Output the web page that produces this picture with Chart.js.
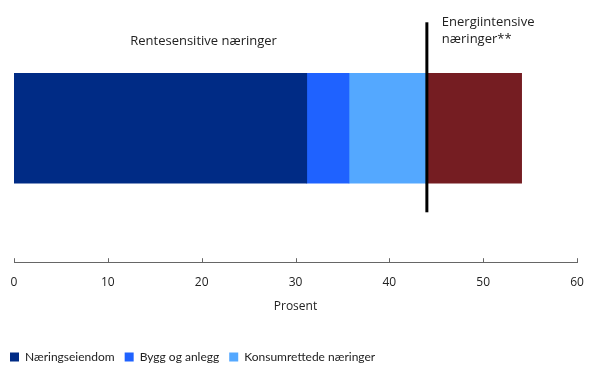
<!DOCTYPE html>
<html>
<head>
<meta charset="utf-8">
<script src="https://cdn.jsdelivr.net/npm/chart.js@4"></script>
<style>
  html, body { margin: 0; padding: 0; background: #fff; }
  #wrap { width: 589px; height: 365px; }
</style>
</head>
<body>
<div id="wrap"><canvas id="c" width="589" height="365"></canvas></div>
<script>
// Shares of lending by industry group, in percent
const seriesNames = ['Næringseiendom', 'Bygg og anlegg', 'Konsumrettede næringer', 'Energiintensive næringer'];
const seriesValues = [31.2, 4.5, 8.2, 10.2];
const seriesColors = ['#002B85', '#1F62FF', '#54A8FF', '#751D22'];
const xTicks = [0, 10, 20, 30, 40, 50, 60];
const groupLabel = 'Rentesensitive næringer';
const energyLabel = ['Energiintensive', 'næringer**'];
const dividerValue = 44;

const FONT = '"Open Sans", "Noto Sans", sans-serif';

const datasets = seriesNames.map((name, i) => ({
  label: name,
  data: [{ x: seriesValues[i], y: 0 }],
  backgroundColor: seriesColors[i],
  borderWidth: 0,
  barThickness: 110
}));

// Divider line, group captions and inward tick marks
const overlay = {
  id: 'overlay',
  afterDraw(chart) {
    const ctx = chart.ctx;
    const xs = chart.scales.x, ys = chart.scales.y;
    const yMid = ys.getPixelForValue(0);
    ctx.save();
    // tick marks above the axis line
    ctx.strokeStyle = '#666';
    ctx.lineWidth = 1;
    const axisY = chart.chartArea.bottom;
    xTicks.forEach(v => {
      const px = Math.round(xs.getPixelForValue(v)) + 0.5;
      ctx.beginPath();
      ctx.moveTo(px, axisY - 4);
      ctx.lineTo(px, axisY);
      ctx.stroke();
    });
    // vertical divider
    const dx = xs.getPixelForValue(dividerValue);
    ctx.strokeStyle = '#000';
    ctx.lineWidth = 3;
    ctx.beginPath();
    ctx.moveTo(dx, yMid - 106);
    ctx.lineTo(dx, yMid + 84);
    ctx.stroke();
    // captions
    ctx.fillStyle = '#222';
    ctx.font = '13px ' + FONT;
    ctx.textBaseline = 'alphabetic';
    ctx.textAlign = 'center';
    ctx.fillText(groupLabel, xs.getPixelForValue(20.2), yMid - 83);
    ctx.textAlign = 'left';
    ctx.fillText(energyLabel[0], dx + 15, yMid - 102);
    ctx.fillText(energyLabel[1], dx + 15, yMid - 85);
    ctx.restore();
  }
};

new Chart(document.getElementById('c'), {
  type: 'bar',
  data: { datasets },
  options: {
    indexAxis: 'y',
    responsive: false,
    animation: false,
    devicePixelRatio: 1,
    layout: { padding: { top: 0, left: 0, right: 0, bottom: -8 } },
    scales: {
      x: {
        type: 'linear',
        stacked: true,
        min: 0,
        max: 60,
        afterBuildTicks(scale) { scale.ticks = xTicks.map(v => ({ value: v })); },
        afterFit(scale) { scale.paddingLeft = 14; scale.paddingRight = 12; },
        grid: { display: false, drawTicks: false },
        border: { display: true, color: '#666', width: 1 },
        ticks: { color: '#222', font: { family: FONT, size: 12 }, padding: 13 },
        title: { display: true, text: 'Prosent', color: '#222', font: { family: FONT, size: 12 }, padding: { top: -3, bottom: 27 } }
      },
      y: {
        type: 'linear',
        stacked: true,
        display: false,
        min: -1.055,
        max: 1
      }
    },
    plugins: {
      legend: {
        display: true,
        position: 'bottom',
        align: 'start',
        labels: {
          boxWidth: 9,
          boxHeight: 9,
          padding: 10,
          color: '#222',
          font: { family: 'Lato, "Open Sans", sans-serif', size: 12 },
          filter: item => item.datasetIndex < 3
        }
      },
      tooltip: { enabled: false }
    }
  },
  plugins: [overlay]
});
</script>
</body>
</html>
